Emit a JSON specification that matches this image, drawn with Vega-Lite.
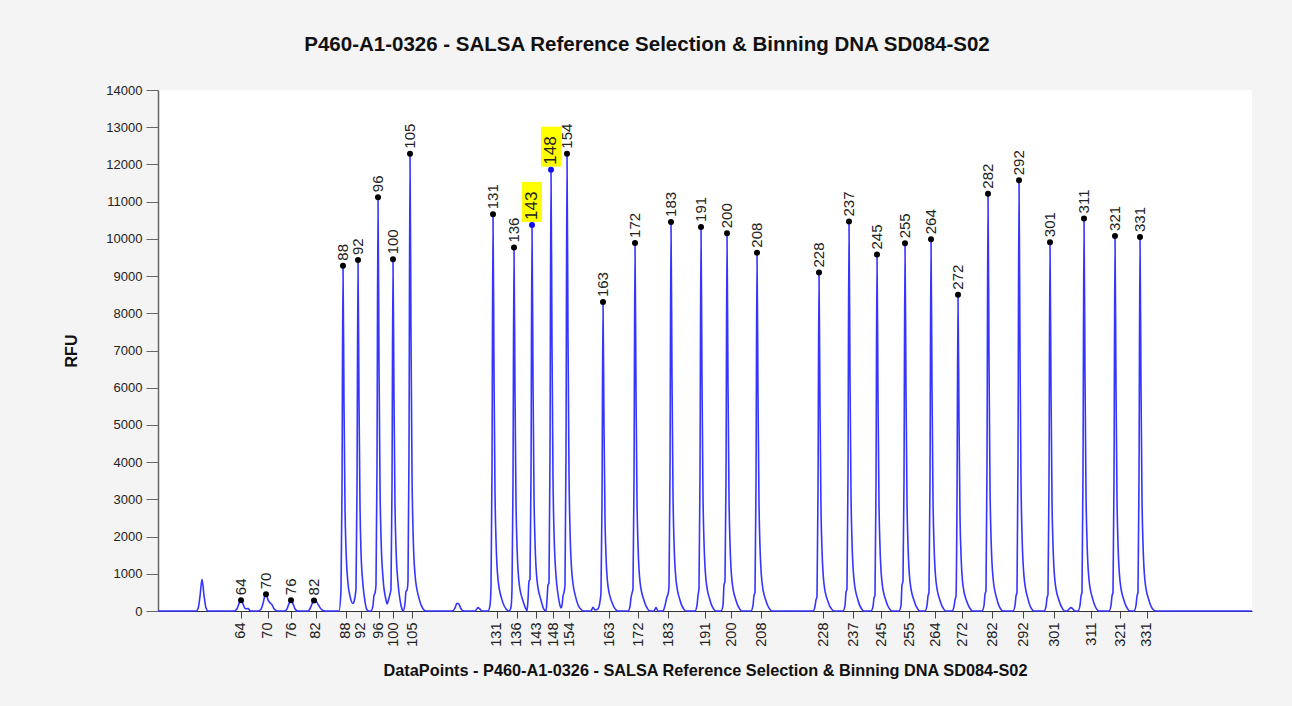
{
  "$schema": "https://vega.github.io/schema/vega-lite/v6.json",
  "width": 1094,
  "height": 521,
  "autosize": {"type": "none"},
  "padding": {"left": 158, "top": 90, "right": 40, "bottom": 95},
  "background": "#f4f4f4",
  "title": {"text": "P460-A1-0326 - SALSA Reference Selection & Binning DNA SD084-S02", "fontSize": 20.5, "font": "Liberation Sans", "fontWeight": "bold", "color": "#111111", "anchor": "middle", "dx": -58, "offset": 29},
  "config": {"font": "Liberation Sans", "view": {"fill": "#ffffff", "stroke": null}, "axis": {"grid": false}},
  "datasets": {
    "trace": [
      {"dp":0,"rfu":0},{"dp":36,"rfu":0},
      {"dp":38,"rfu":0},{"dp":40,"rfu":60},{"dp":42,"rfu":400},{"dp":44,"rfu":850},{"dp":46,"rfu":420},{"dp":48,"rfu":80},{"dp":50,"rfu":0},
      {"dp":76,"rfu":0},{"dp":79,"rfu":60},{"dp":81,"rfu":200},{"dp":83,"rfu":290},{"dp":85,"rfu":190},{"dp":87,"rfu":70},{"dp":89,"rfu":60},{"dp":90,"rfu":70},{"dp":92,"rfu":10},{"dp":94,"rfu":0},
      {"dp":100,"rfu":0},{"dp":103,"rfu":50},{"dp":105,"rfu":200},{"dp":107,"rfu":420},{"dp":108,"rfu":450},{"dp":110,"rfu":300},{"dp":112,"rfu":220},{"dp":114,"rfu":170},{"dp":116,"rfu":60},{"dp":118,"rfu":15},{"dp":120,"rfu":0},
      {"dp":127,"rfu":0},{"dp":129,"rfu":60},{"dp":131,"rfu":200},{"dp":133,"rfu":290},{"dp":135,"rfu":190},{"dp":137,"rfu":60},{"dp":139,"rfu":10},{"dp":141,"rfu":0},
      {"dp":150,"rfu":0},{"dp":152,"rfu":60},{"dp":154,"rfu":190},{"dp":156,"rfu":285},{"dp":158,"rfu":270},{"dp":160,"rfu":180},{"dp":162,"rfu":90},{"dp":164,"rfu":30},{"dp":166,"rfu":5},{"dp":168,"rfu":0},
      {"dp":181,"rfu":0},{"dp":183,"rfu":560},{"dp":184,"rfu":3250},{"dp":185,"rfu":9280},{"dp":186,"rfu":5570},{"dp":187,"rfu":2780},{"dp":188,"rfu":1670},{"dp":190,"rfu":740},{"dp":192,"rfu":400},{"dp":195,"rfu":200},
      {"dp":196,"rfu":250},{"dp":198,"rfu":600},{"dp":199,"rfu":3300},{"dp":200,"rfu":9430},{"dp":201,"rfu":5660},{"dp":202,"rfu":2830},{"dp":203,"rfu":1600},{"dp":205,"rfu":700},{"dp":207,"rfu":250},{"dp":209,"rfu":30},{"dp":211,"rfu":0},
      {"dp":213,"rfu":0},{"dp":215,"rfu":150},{"dp":216,"rfu":420},{"dp":217,"rfu":480},{"dp":218,"rfu":700},{"dp":219,"rfu":3900},{"dp":220,"rfu":11120},{"dp":221,"rfu":6670},{"dp":222,"rfu":3340},{"dp":223,"rfu":2000},{"dp":225,"rfu":890},{"dp":228,"rfu":300},{"dp":229,"rfu":190},
      {"dp":231,"rfu":350},{"dp":232,"rfu":450},{"dp":233,"rfu":600},{"dp":234,"rfu":3300},{"dp":235,"rfu":9450},{"dp":236,"rfu":5670},{"dp":237,"rfu":2840},{"dp":238,"rfu":1700},{"dp":240,"rfu":760},{"dp":242,"rfu":300},{"dp":244,"rfu":50},{"dp":245,"rfu":0},
      {"dp":247,"rfu":200},{"dp":248,"rfu":530},{"dp":249,"rfu":560},{"dp":250,"rfu":800},{"dp":251,"rfu":4300},{"dp":252,"rfu":12290},{"dp":253,"rfu":7370},{"dp":254,"rfu":3690},{"dp":255,"rfu":2200},{"dp":257,"rfu":980},{"dp":261,"rfu":340},{"dp":265,"rfu":60},{"dp":268,"rfu":0},
      {"dp":294,"rfu":0},{"dp":297,"rfu":80},{"dp":299,"rfu":210},{"dp":301,"rfu":180},{"dp":303,"rfu":60},{"dp":306,"rfu":0},
      {"dp":317,"rfu":0},{"dp":319,"rfu":60},{"dp":320,"rfu":90},{"dp":322,"rfu":50},{"dp":324,"rfu":0},
      {"dp":330,"rfu":0},{"dp":332,"rfu":150},{"dp":333,"rfu":640},{"dp":334,"rfu":3730},{"dp":335,"rfu":10660},{"dp":336,"rfu":6400},{"dp":337,"rfu":3200},{"dp":338,"rfu":1920},{"dp":340,"rfu":850},{"dp":344,"rfu":300},{"dp":349,"rfu":30},{"dp":351,"rfu":0},
      {"dp":353,"rfu":100},{"dp":354,"rfu":590},{"dp":355,"rfu":3420},{"dp":356,"rfu":9765},{"dp":357,"rfu":5860},{"dp":358,"rfu":2930},{"dp":359,"rfu":1760},{"dp":361,"rfu":780},{"dp":365,"rfu":270},{"dp":368,"rfu":50},{"dp":369,"rfu":0},
      {"dp":370,"rfu":300},{"dp":371,"rfu":800},{"dp":372,"rfu":850},{"dp":373,"rfu":3600},{"dp":374,"rfu":10375},{"dp":375,"rfu":6230},{"dp":376,"rfu":3110},{"dp":377,"rfu":1870},{"dp":379,"rfu":830},{"dp":383,"rfu":290},{"dp":386,"rfu":40},{"dp":388,"rfu":0},
      {"dp":389,"rfu":300},{"dp":390,"rfu":700},{"dp":391,"rfu":750},{"dp":392,"rfu":4150},{"dp":393,"rfu":11860},{"dp":394,"rfu":7120},{"dp":395,"rfu":3560},{"dp":396,"rfu":2130},{"dp":398,"rfu":950},{"dp":400,"rfu":450},{"dp":402,"rfu":150},{"dp":403,"rfu":80},
      {"dp":404,"rfu":150},{"dp":405,"rfu":400},{"dp":406,"rfu":500},{"dp":407,"rfu":700},{"dp":408,"rfu":4300},{"dp":409,"rfu":12290},{"dp":410,"rfu":7370},{"dp":411,"rfu":3690},{"dp":412,"rfu":2200},{"dp":414,"rfu":980},{"dp":418,"rfu":340},{"dp":423,"rfu":40},{"dp":426,"rfu":0},
      {"dp":433,"rfu":0},{"dp":435,"rfu":100},{"dp":437,"rfu":30},{"dp":440,"rfu":60},{"dp":442,"rfu":260},{"dp":443,"rfu":500},{"dp":444,"rfu":2900},{"dp":445,"rfu":8300},{"dp":446,"rfu":4980},{"dp":447,"rfu":2490},{"dp":448,"rfu":1490},{"dp":450,"rfu":660},{"dp":454,"rfu":230},{"dp":458,"rfu":30},{"dp":460,"rfu":0},
      {"dp":470,"rfu":0},{"dp":472,"rfu":120},{"dp":473,"rfu":350},{"dp":474,"rfu":480},{"dp":475,"rfu":600},{"dp":476,"rfu":3460},{"dp":477,"rfu":9890},{"dp":478,"rfu":5930},{"dp":479,"rfu":2970},{"dp":480,"rfu":1780},{"dp":482,"rfu":790},{"dp":486,"rfu":280},{"dp":490,"rfu":40},{"dp":492,"rfu":0},
      {"dp":496,"rfu":0},{"dp":498,"rfu":90},{"dp":500,"rfu":0},
      {"dp":505,"rfu":0},{"dp":507,"rfu":150},{"dp":509,"rfu":380},{"dp":510,"rfu":450},{"dp":511,"rfu":650},{"dp":512,"rfu":3660},{"dp":513,"rfu":10455},{"dp":514,"rfu":6270},{"dp":515,"rfu":3140},{"dp":516,"rfu":1880},{"dp":518,"rfu":840},{"dp":522,"rfu":290},{"dp":526,"rfu":40},{"dp":528,"rfu":0},
      {"dp":537,"rfu":0},{"dp":539,"rfu":150},{"dp":540,"rfu":420},{"dp":541,"rfu":600},{"dp":542,"rfu":3610},{"dp":543,"rfu":10320},{"dp":544,"rfu":6190},{"dp":545,"rfu":3100},{"dp":546,"rfu":1860},{"dp":548,"rfu":830},{"dp":552,"rfu":290},{"dp":556,"rfu":40},{"dp":558,"rfu":0},
      {"dp":563,"rfu":0},{"dp":565,"rfu":150},{"dp":566,"rfu":700},{"dp":567,"rfu":800},{"dp":568,"rfu":3550},{"dp":569,"rfu":10150},{"dp":570,"rfu":6090},{"dp":571,"rfu":3050},{"dp":572,"rfu":1830},{"dp":574,"rfu":810},{"dp":578,"rfu":280},{"dp":582,"rfu":40},{"dp":584,"rfu":0},
      {"dp":593,"rfu":0},{"dp":595,"rfu":150},{"dp":596,"rfu":420},{"dp":597,"rfu":500},{"dp":598,"rfu":3370},{"dp":599,"rfu":9630},{"dp":600,"rfu":5780},{"dp":601,"rfu":2890},{"dp":602,"rfu":1730},{"dp":604,"rfu":770},{"dp":608,"rfu":270},{"dp":612,"rfu":40},{"dp":614,"rfu":0},
      {"dp":655,"rfu":0},{"dp":657,"rfu":120},{"dp":658,"rfu":300},{"dp":659,"rfu":380},{"dp":660,"rfu":3180},{"dp":661,"rfu":9095},{"dp":662,"rfu":5460},{"dp":663,"rfu":2730},{"dp":664,"rfu":1640},{"dp":666,"rfu":730},{"dp":670,"rfu":250},{"dp":674,"rfu":40},{"dp":676,"rfu":0},
      {"dp":685,"rfu":0},{"dp":687,"rfu":150},{"dp":688,"rfu":500},{"dp":689,"rfu":600},{"dp":690,"rfu":3660},{"dp":691,"rfu":10465},{"dp":692,"rfu":6280},{"dp":693,"rfu":3140},{"dp":694,"rfu":1880},{"dp":696,"rfu":840},{"dp":700,"rfu":290},{"dp":704,"rfu":40},{"dp":706,"rfu":0},
      {"dp":713,"rfu":0},{"dp":715,"rfu":120},{"dp":716,"rfu":350},{"dp":717,"rfu":420},{"dp":718,"rfu":3350},{"dp":719,"rfu":9580},{"dp":720,"rfu":5750},{"dp":721,"rfu":2870},{"dp":722,"rfu":1720},{"dp":724,"rfu":770},{"dp":728,"rfu":270},{"dp":732,"rfu":40},{"dp":734,"rfu":0},
      {"dp":741,"rfu":0},{"dp":743,"rfu":150},{"dp":744,"rfu":700},{"dp":745,"rfu":800},{"dp":746,"rfu":3460},{"dp":747,"rfu":9880},{"dp":748,"rfu":5930},{"dp":749,"rfu":2960},{"dp":750,"rfu":1780},{"dp":752,"rfu":790},{"dp":756,"rfu":280},{"dp":760,"rfu":40},{"dp":762,"rfu":0},
      {"dp":767,"rfu":0},{"dp":769,"rfu":150},{"dp":770,"rfu":400},{"dp":771,"rfu":500},{"dp":772,"rfu":3500},{"dp":773,"rfu":9990},{"dp":774,"rfu":5990},{"dp":775,"rfu":3000},{"dp":776,"rfu":1800},{"dp":778,"rfu":800},{"dp":782,"rfu":280},{"dp":786,"rfu":40},{"dp":788,"rfu":0},
      {"dp":794,"rfu":0},{"dp":796,"rfu":120},{"dp":797,"rfu":300},{"dp":798,"rfu":400},{"dp":799,"rfu":2980},{"dp":800,"rfu":8500},{"dp":801,"rfu":5100},{"dp":802,"rfu":2550},{"dp":803,"rfu":1530},{"dp":805,"rfu":680},{"dp":809,"rfu":240},{"dp":813,"rfu":30},{"dp":815,"rfu":0},
      {"dp":824,"rfu":0},{"dp":826,"rfu":150},{"dp":827,"rfu":450},{"dp":828,"rfu":550},{"dp":829,"rfu":3930},{"dp":830,"rfu":11215},{"dp":831,"rfu":6730},{"dp":832,"rfu":3360},{"dp":833,"rfu":2020},{"dp":835,"rfu":900},{"dp":839,"rfu":310},{"dp":843,"rfu":40},{"dp":845,"rfu":0},
      {"dp":855,"rfu":0},{"dp":857,"rfu":150},{"dp":858,"rfu":400},{"dp":859,"rfu":500},{"dp":860,"rfu":4050},{"dp":861,"rfu":11575},{"dp":862,"rfu":6950},{"dp":863,"rfu":3470},{"dp":864,"rfu":2080},{"dp":866,"rfu":930},{"dp":870,"rfu":320},{"dp":874,"rfu":40},{"dp":876,"rfu":0},
      {"dp":886,"rfu":0},{"dp":888,"rfu":120},{"dp":889,"rfu":350},{"dp":890,"rfu":450},{"dp":891,"rfu":3470},{"dp":892,"rfu":9910},{"dp":893,"rfu":5950},{"dp":894,"rfu":2970},{"dp":895,"rfu":1780},{"dp":897,"rfu":790},{"dp":901,"rfu":280},{"dp":905,"rfu":40},{"dp":907,"rfu":0},
      {"dp":909,"rfu":0},{"dp":911,"rfu":50},{"dp":913,"rfu":90},{"dp":915,"rfu":50},{"dp":917,"rfu":0},
      {"dp":920,"rfu":0},{"dp":922,"rfu":150},{"dp":923,"rfu":400},{"dp":924,"rfu":500},{"dp":925,"rfu":3690},{"dp":926,"rfu":10550},{"dp":927,"rfu":6330},{"dp":928,"rfu":3170},{"dp":929,"rfu":1900},{"dp":931,"rfu":840},{"dp":935,"rfu":300},{"dp":939,"rfu":40},{"dp":941,"rfu":0},
      {"dp":951,"rfu":0},{"dp":953,"rfu":150},{"dp":954,"rfu":400},{"dp":955,"rfu":500},{"dp":956,"rfu":3530},{"dp":957,"rfu":10080},{"dp":958,"rfu":6050},{"dp":959,"rfu":3020},{"dp":960,"rfu":1810},{"dp":962,"rfu":810},{"dp":966,"rfu":280},{"dp":970,"rfu":40},{"dp":972,"rfu":0},
      {"dp":976,"rfu":0},{"dp":978,"rfu":150},{"dp":979,"rfu":400},{"dp":980,"rfu":500},{"dp":981,"rfu":3520},{"dp":982,"rfu":10050},{"dp":983,"rfu":6030},{"dp":984,"rfu":3020},{"dp":985,"rfu":1810},{"dp":987,"rfu":800},{"dp":991,"rfu":280},{"dp":995,"rfu":40},{"dp":998,"rfu":0},
      {"dp":1094,"rfu":0}
    ],
    "peaks": [
      {"dp":83,"rfu":290,"bp":"64","sel":false},
      {"dp":108,"rfu":450,"bp":"70","sel":false},
      {"dp":133,"rfu":290,"bp":"76","sel":false},
      {"dp":156,"rfu":285,"bp":"82","sel":false},
      {"dp":185,"rfu":9280,"bp":"88","sel":false},
      {"dp":200,"rfu":9430,"bp":"92","sel":false},
      {"dp":220,"rfu":11120,"bp":"96","sel":false},
      {"dp":235,"rfu":9450,"bp":"100","sel":false},
      {"dp":252,"rfu":12290,"bp":"105","sel":false},
      {"dp":335,"rfu":10660,"bp":"131","sel":false},
      {"dp":356,"rfu":9765,"bp":"136","sel":false},
      {"dp":374,"rfu":10375,"bp":"143","sel":true},
      {"dp":393,"rfu":11860,"bp":"148","sel":true},
      {"dp":409,"rfu":12290,"bp":"154","sel":false},
      {"dp":445,"rfu":8300,"bp":"163","sel":false},
      {"dp":477,"rfu":9890,"bp":"172","sel":false},
      {"dp":513,"rfu":10455,"bp":"183","sel":false},
      {"dp":543,"rfu":10320,"bp":"191","sel":false},
      {"dp":569,"rfu":10150,"bp":"200","sel":false},
      {"dp":599,"rfu":9630,"bp":"208","sel":false},
      {"dp":661,"rfu":9095,"bp":"228","sel":false},
      {"dp":691,"rfu":10465,"bp":"237","sel":false},
      {"dp":719,"rfu":9580,"bp":"245","sel":false},
      {"dp":747,"rfu":9880,"bp":"255","sel":false},
      {"dp":773,"rfu":9990,"bp":"264","sel":false},
      {"dp":800,"rfu":8500,"bp":"272","sel":false},
      {"dp":830,"rfu":11215,"bp":"282","sel":false},
      {"dp":861,"rfu":11575,"bp":"292","sel":false},
      {"dp":892,"rfu":9910,"bp":"301","sel":false},
      {"dp":926,"rfu":10550,"bp":"311","sel":false},
      {"dp":957,"rfu":10080,"bp":"321","sel":false},
      {"dp":982,"rfu":10050,"bp":"331","sel":false}
    ]
  },
  "encoding": {
    "x": {
      "field": "dp", "type": "quantitative",
      "scale": {"domain": [0, 1094], "nice": false, "zero": false},
      "axis": {
        "title": "DataPoints - P460-A1-0326 - SALSA Reference Selection & Binning DNA SD084-S02",
        "titleFont": "Liberation Sans", "titleFontSize": 16.3, "titleFontWeight": "bold", "titleColor": "#111111", "titlePadding": 16,
        "values": [82.7,109.7,133,157.7,187.7,202.7,220.7,235.3,254.3,338.7,358.7,378,395.3,411.3,451,480.3,510.3,547,573,603,665,695,723,751,777,804,834,865,896,933.3,962.3,988.7],
        "labelExpr": "['64','70','76','82','88','92','96','100','105','131','136','143','148','154','163','172','183','191','200','208','228','237','245','255','264','272','282','292','301','311','321','331'][indexof([82.7,109.7,133,157.7,187.7,202.7,220.7,235.3,254.3,338.7,358.7,378,395.3,411.3,451,480.3,510.3,547,573,603,665,695,723,751,777,804,834,865,896,933.3,962.3,988.7], datum.value)]",
        "labelAngle": 270, "labelAlign": "right", "labelBaseline": "middle",
        "labelFont": "Liberation Sans", "labelFontSize": 14.5, "labelColor": "#222222",
        "labelOverlap": false, "labelBound": false, "labelFlush": false, "labelPadding": 4,
        "tickSize": 7, "tickColor": "#444444", "domainColor": "#333333", "domainWidth": 1.2
      }
    },
    "y": {
      "field": "rfu", "type": "quantitative",
      "scale": {"domain": [0, 14000], "nice": false},
      "axis": {
        "title": "RFU", "titleFont": "Liberation Sans", "titleFontSize": 16, "titleFontWeight": "bold", "titleColor": "#111111", "titlePadding": 26,
        "values": [0,1000,2000,3000,4000,5000,6000,7000,8000,9000,10000,11000,12000,13000,14000],
        "format": "d", "labelFont": "Liberation Sans", "labelFontSize": 13, "labelColor": "#222222", "labelPadding": 4,
        "tickSize": 12, "tickColor": "#666666", "domainColor": "#666666", "domainWidth": 1.5
      }
    }
  },
  "layer": [
    {"data": {"name": "trace"}, "mark": {"type": "line", "color": "#3535ff", "strokeWidth": 1.6, "interpolate": "monotone"}},
    {"data": {"name": "peaks"}, "transform": [{"filter": "datum.sel"}], "mark": {"type": "point", "shape": "M-1,-0.3H1V-4.3H-1Z", "filled": true, "color": "#ffff00", "opacity": 1, "size": 400, "strokeWidth": 0}},
    {"data": {"name": "peaks"}, "mark": {"type": "point", "filled": true, "size": 36, "opacity": 1},
     "encoding": {"color": {"condition": {"test": "datum.sel", "value": "#1010ee"}, "value": "#000000"}}},
    {"data": {"name": "peaks"}, "mark": {"type": "text", "angle": 270, "align": "left", "baseline": "middle", "dx": 5, "font": "Liberation Sans", "color": "#222222"},
     "encoding": {"text": {"field": "bp"}, "size": {"condition": {"test": "datum.sel", "value": 17}, "value": 15}}}
  ]
}
